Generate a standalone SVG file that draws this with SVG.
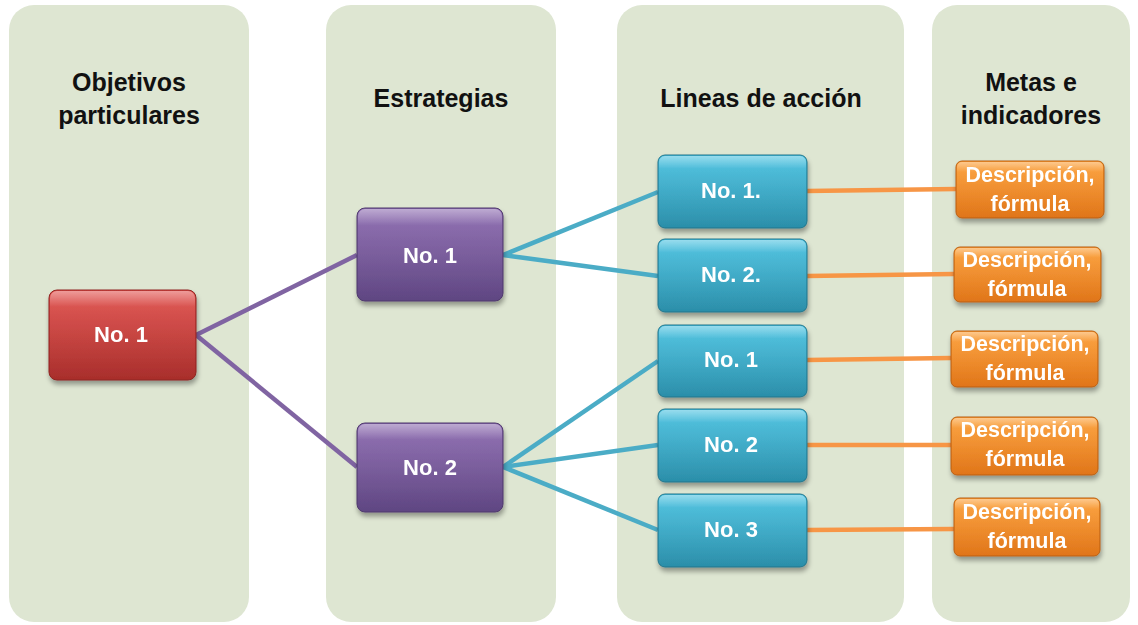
<svg xmlns="http://www.w3.org/2000/svg" width="1138" height="625" viewBox="0 0 1138 625">
<defs>
<linearGradient id="gRed" x1="0" y1="0" x2="0" y2="1"><stop offset="0" stop-color="#e04a46"/><stop offset="1" stop-color="#a82e2b"/></linearGradient>
<linearGradient id="gPur" x1="0" y1="0" x2="0" y2="1"><stop offset="0" stop-color="#8865ad"/><stop offset="1" stop-color="#5f4682"/></linearGradient>
<linearGradient id="gBlu" x1="0" y1="0" x2="0" y2="1"><stop offset="0" stop-color="#43c0e0"/><stop offset="1" stop-color="#2b8ea9"/></linearGradient>
<linearGradient id="gOra" x1="0" y1="0" x2="0" y2="1"><stop offset="0" stop-color="#fc9c30"/><stop offset="1" stop-color="#e07519"/></linearGradient>
<linearGradient id="gGloss" x1="0" y1="0" x2="0" y2="1"><stop offset="0" stop-color="#ffffff" stop-opacity="0.45"/><stop offset="0.18" stop-color="#ffffff" stop-opacity="0.08"/><stop offset="1" stop-color="#ffffff" stop-opacity="0"/></linearGradient>
<filter id="sh" x="-10%" y="-10%" width="130%" height="140%"><feGaussianBlur in="SourceAlpha" stdDeviation="2.5"/><feOffset dx="1" dy="4"/><feComponentTransfer><feFuncA type="linear" slope="0.35"/></feComponentTransfer><feMerge><feMergeNode/><feMergeNode in="SourceGraphic"/></feMerge></filter>
</defs>
<style>
.col{fill:#dee6d2}
.hd{font-family:"Liberation Sans",Arial,sans-serif;font-weight:bold;font-size:25px;fill:#111;text-anchor:middle}
.nt{font-family:"Liberation Sans",Arial,sans-serif;font-weight:bold;font-size:22px;fill:#fff;text-anchor:middle}
.ot{font-family:"Liberation Sans",Arial,sans-serif;font-weight:bold;font-size:21.5px;fill:#fff;text-anchor:middle}
.red{fill:url(#gRed);stroke:#8e2523;stroke-width:1}
.pur{fill:url(#gPur);stroke:#4f3a6d;stroke-width:1}
.blu{fill:url(#gBlu);stroke:#22758b;stroke-width:1}
.ora{fill:url(#gOra);stroke:#b85f14;stroke-width:1}
.gl{fill:url(#gGloss)}
.cp{stroke:#8064a2;stroke-width:4.5;fill:none}
.cb{stroke:#4bacc6;stroke-width:4.5;fill:none}
.co{stroke:#f79646;stroke-width:4.5;fill:none}
</style>
<rect width="1138" height="625" fill="#ffffff"/>
<g id="columns">
<rect class="col" x="9" y="5" width="240" height="617" rx="25"/>
<rect class="col" x="326" y="5" width="230" height="617" rx="25"/>
<rect class="col" x="617" y="5" width="287" height="617" rx="25"/>
<rect class="col" x="932" y="5" width="198" height="617" rx="25"/>
<text class="hd" x="129" y="91">Objetivos</text>
<text class="hd" x="129" y="124">particulares</text>
<text class="hd" x="441" y="107">Estrategias</text>
<text class="hd" x="761" y="107">Lineas de acción</text>
<text class="hd" x="1031" y="91">Metas e</text>
<text class="hd" x="1031" y="124">indicadores</text>
</g>
<g id="connectors">
<line class="cp" x1="196" y1="335" x2="357" y2="255"/>
<line class="cp" x1="196" y1="335" x2="357" y2="467"/>
<line class="cb" x1="503" y1="255" x2="658" y2="192"/>
<line class="cb" x1="503" y1="255" x2="658" y2="276"/>
<line class="cb" x1="503" y1="467" x2="658" y2="361"/>
<line class="cb" x1="503" y1="467" x2="658" y2="445"/>
<line class="cb" x1="503" y1="467" x2="658" y2="530"/>
<line class="co" x1="807" y1="191" x2="956" y2="189"/>
<line class="co" x1="807" y1="276" x2="954" y2="274"/>
<line class="co" x1="807" y1="360" x2="951" y2="358"/>
<line class="co" x1="807" y1="445" x2="951" y2="445"/>
<line class="co" x1="807" y1="530" x2="954" y2="529"/>
</g>
<g id="obj1" filter="url(#sh)">
<rect class="red" x="49" y="290" width="147" height="90" rx="8"/>
<rect class="gl" x="50" y="291" width="145" height="88" rx="7"/>
<text class="nt" x="121" y="342">No. 1</text>
</g>
<g id="est1" filter="url(#sh)">
<rect class="pur" x="357" y="208" width="146" height="93" rx="8"/>
<rect class="gl" x="358" y="209" width="144" height="91" rx="7"/>
<text class="nt" x="430" y="263">No. 1</text>
</g>
<g id="est2" filter="url(#sh)">
<rect class="pur" x="357" y="423" width="146" height="89" rx="8"/>
<rect class="gl" x="358" y="424" width="144" height="87" rx="7"/>
<text class="nt" x="430" y="475">No. 2</text>
</g>
<g id="lin1" filter="url(#sh)">
<rect class="blu" x="658" y="155" width="149" height="73" rx="7"/>
<rect class="gl" x="659" y="156" width="147" height="71" rx="6"/>
<text class="nt" x="731" y="198">No. 1.</text>
</g>
<g id="lin2" filter="url(#sh)">
<rect class="blu" x="658" y="239" width="149" height="73" rx="7"/>
<rect class="gl" x="659" y="240" width="147" height="71" rx="6"/>
<text class="nt" x="731" y="282">No. 2.</text>
</g>
<g id="lin3" filter="url(#sh)">
<rect class="blu" x="658" y="325" width="149" height="72" rx="7"/>
<rect class="gl" x="659" y="326" width="147" height="70" rx="6"/>
<text class="nt" x="731" y="367">No. 1</text>
</g>
<g id="lin4" filter="url(#sh)">
<rect class="blu" x="658" y="409" width="149" height="73" rx="7"/>
<rect class="gl" x="659" y="410" width="147" height="71" rx="6"/>
<text class="nt" x="731" y="452">No. 2</text>
</g>
<g id="lin5" filter="url(#sh)">
<rect class="blu" x="658" y="494" width="149" height="73" rx="7"/>
<rect class="gl" x="659" y="495" width="147" height="71" rx="6"/>
<text class="nt" x="731" y="537">No. 3</text>
</g>
<g id="meta1" filter="url(#sh)">
<rect class="ora" x="956" y="161" width="148" height="57" rx="6"/>
<rect class="gl" x="957" y="162" width="146" height="55" rx="5"/>
<text class="ot" x="1030" y="182">Descripción,</text>
<text class="ot" x="1030" y="211">fórmula</text>
</g>
<g id="meta2" filter="url(#sh)">
<rect class="ora" x="954" y="247" width="147" height="55" rx="6"/>
<rect class="gl" x="955" y="248" width="145" height="53" rx="5"/>
<text class="ot" x="1027" y="267">Descripción,</text>
<text class="ot" x="1027" y="296">fórmula</text>
</g>
<g id="meta3" filter="url(#sh)">
<rect class="ora" x="951" y="331" width="147" height="56" rx="6"/>
<rect class="gl" x="952" y="332" width="145" height="54" rx="5"/>
<text class="ot" x="1025" y="351">Descripción,</text>
<text class="ot" x="1025" y="380">fórmula</text>
</g>
<g id="meta4" filter="url(#sh)">
<rect class="ora" x="951" y="417" width="147" height="58" rx="6"/>
<rect class="gl" x="952" y="418" width="145" height="56" rx="5"/>
<text class="ot" x="1025" y="437">Descripción,</text>
<text class="ot" x="1025" y="466">fórmula</text>
</g>
<g id="meta5" filter="url(#sh)">
<rect class="ora" x="954" y="498" width="146" height="58" rx="6"/>
<rect class="gl" x="955" y="499" width="144" height="56" rx="5"/>
<text class="ot" x="1027" y="519">Descripción,</text>
<text class="ot" x="1027" y="548">fórmula</text>
</g>
</svg>
